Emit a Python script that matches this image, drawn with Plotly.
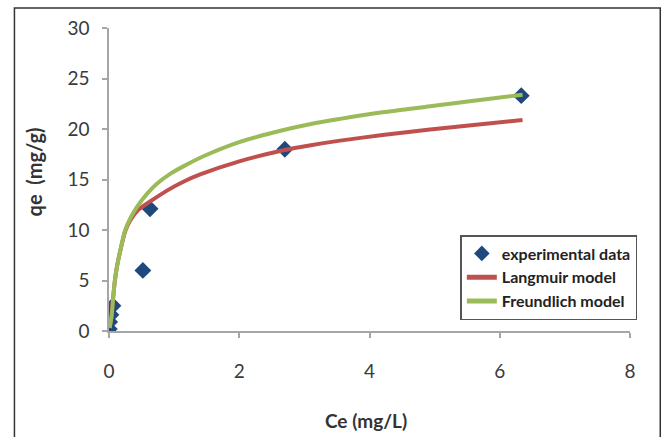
import plotly.graph_objects as go

# Experimental data
exp_ce = [0.005, 0.01, 0.03, 0.06, 0.52, 0.63, 2.70, 6.33]
exp_qe = [0.2, 0.9, 1.6, 2.5, 6.0, 12.1, 18.0, 23.3]

# Langmuir model curve
lang_ce = [0.01, 0.04, 0.06, 0.085, 0.12, 0.175, 0.25, 0.33, 0.45, 0.65, 0.89, 1.15, 1.40, 2.00, 2.68, 3.10, 3.55, 4.20, 4.93, 5.60, 6.35]
lang_qe = [0.3, 1.5, 3.0, 4.7, 6.3, 8.0, 9.9, 11.0, 12.0, 12.9, 13.9, 14.8, 15.5, 16.8, 17.9, 18.4, 18.85, 19.4, 19.95, 20.4, 20.9]

# Freundlich model curve
freu_ce = [0.01, 0.04, 0.06, 0.085, 0.12, 0.175, 0.25, 0.33, 0.43, 0.60, 0.74, 0.95, 1.17, 1.45, 2.00, 2.68, 3.10, 3.55, 4.20, 4.93, 5.60, 6.35]
freu_qe = [0.3, 1.5, 3.0, 4.7, 6.3, 8.0, 10.0, 11.2, 12.3, 13.7, 14.6, 15.6, 16.4, 17.3, 18.7, 19.9, 20.5, 21.0, 21.65, 22.25, 22.8, 23.4]

x_ticks = [0, 2, 4, 6, 8]
y_ticks = [0, 5, 10, 15, 20, 25, 30]

fig = go.Figure()
fig.add_trace(go.Scatter(
    x=exp_ce, y=exp_qe, mode="markers", name="experimental data",
    marker=dict(symbol="diamond", size=13, color="#1F497D",
                line=dict(width=0)),
))
fig.add_trace(go.Scatter(
    x=lang_ce, y=lang_qe, mode="lines", name="Langmuir model",
    line=dict(color="#C0504D", width=4, shape="spline", smoothing=0.8),
))
fig.add_trace(go.Scatter(
    x=freu_ce, y=freu_qe, mode="lines", name="Freundlich model",
    line=dict(color="#9BBB59", width=4, shape="spline", smoothing=0.8),
))

axis_common = dict(
    showgrid=False, zeroline=False, showline=True,
    linecolor="#A6A6A6", linewidth=1.5,
    ticks="outside", ticklen=5, tickcolor="#A6A6A6", tickwidth=1.5,
    tickfont=dict(family="Lato", size=19, color="#3A3A3A"),
)

fig.update_xaxes(range=[0, 8], tickvals=x_ticks, ticklabelstandoff=17, **axis_common)
fig.update_yaxes(range=[0, 30], tickvals=y_ticks, ticklabelstandoff=9, **axis_common)

# outer frame
fig.add_shape(type="rect", xref="paper", yref="paper",
              x0=-0.1815, x1=1.0581, y0=-0.40, y1=1.066,
              line=dict(color="#333333", width=1.5), fillcolor="rgba(0,0,0,0)",
              layer="below")

# axis titles
fig.add_annotation(text="Ce (mg/L)", xref="paper", yref="paper",
                   x=(365.6 - 108.6) / 521.1, y=(331 - 420) / 303,
                   showarrow=False, xanchor="center", yanchor="middle",
                   font=dict(family="Lato", size=19, color="#333333", weight="bold"))
fig.add_annotation(text="qe  (mg/g)", xref="paper", yref="paper",
                   x=(34 - 108.6) / 521.1, y=(331 - 172) / 303,
                   showarrow=False, xanchor="center", yanchor="middle",
                   textangle=-90,
                   font=dict(family="Lato", size=20, color="#333333", weight="bold"))

fig.update_layout(
    width=665, height=437,
    margin=dict(l=109, r=35, t=28, b=106),
    paper_bgcolor="white", plot_bgcolor="white",
    showlegend=True,
    legend=dict(
        x=(460 - 108.6) / 521.1, y=(331 - 235) / 303,
        xanchor="left", yanchor="top",
        bgcolor="white", bordercolor="#555555", borderwidth=1.5,
        font=dict(family="Lato", size=16, color="#222222", weight="bold"),
        itemsizing="constant",
        tracegroupgap=0,
    ),
)

fig.write_html("out.html")
